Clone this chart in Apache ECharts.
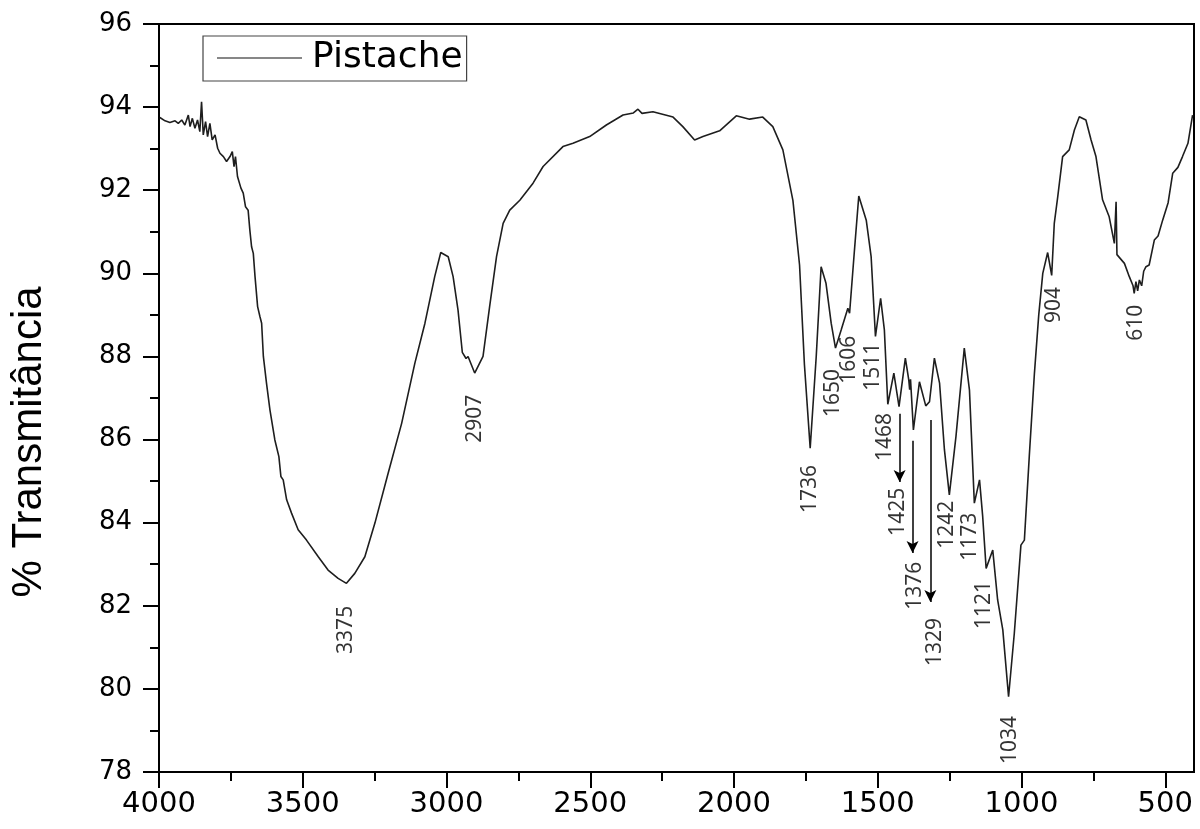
<!DOCTYPE html>
<html>
<head>
<meta charset="utf-8">
<script src="https://cdn.jsdelivr.net/npm/echarts@6/dist/echarts.min.js"></script>
<style>
html,body{margin:0;padding:0;background:#fff;}
#chart{width:1200px;height:829px;}
</style>
</head>
<body>
<div id="chart"></div>
<script>
// ---- data ----
const wavenumber = [
3997,3979,3962,3944,3933,3921,3910,3898,3892,3884,3875,3866,3858,3852,3846,3838,3831,3823,3815,3805,
3796,3788,3776,3765,3753,3745,3739,3734,3727,3715,3707,3699,3690,3684,3678,3672,3666,3657,3649,3643,
3637,3626,3614,3597,3583,3576,3568,3556,3539,3516,3487,3446,3412,3377,3348,3319,3284,3249,3203,3156,
3110,3075,3041,3020,2994,2977,2960,2945,2932,2925,2902,2873,2850,2826,2803,2780,2745,2699,2664,2595,
2560,2502,2444,2386,2350,2334,2320,2282,2212,2178,2137,2108,2050,1992,1946,1900,1865,1830,1795,1772,
1755,1735,1714,1697,1680,1662,1647,1627,1604,1598,1581,1566,1540,1523,1508,1490,1477,1465,1444,1426,
1404,1392,1389,1386,1376,1355,1333,1320,1303,1285,1268,1251,1228,1199,1181,1164,1146,1135,1123,1100,
1083,1065,1045,1025,1002,990,973,955,940,926,909,895,886,874,857,834,816,799,776,758,
741,718,695,677,671,668,642,625,612,608,602,596,590,582,575,567,556,538,525,509,
490,474,456,440,421,405
];
const transmittance = [
93.75,93.67,93.63,93.67,93.61,93.69,93.57,93.81,93.53,93.73,93.49,93.69,93.41,94.13,93.33,93.65,93.29,93.61,93.21,93.33,
93.01,92.89,92.81,92.69,92.81,92.93,92.57,92.81,92.33,92.05,91.93,91.60,91.52,91.04,90.64,90.48,89.92,89.20,88.96,88.80,
88.00,87.35,86.71,85.99,85.59,85.11,85.03,84.55,84.23,83.83,83.58,83.18,82.86,82.66,82.54,82.78,83.18,83.99,85.19,86.39,
87.84,88.80,89.92,90.50,90.40,89.92,89.12,88.10,87.95,88.00,87.60,88.00,89.20,90.40,91.20,91.52,91.76,92.17,92.57,93.05,
93.13,93.29,93.57,93.81,93.86,93.95,93.85,93.89,93.76,93.53,93.21,93.29,93.43,93.79,93.71,93.76,93.53,92.97,91.75,90.20,
87.80,85.79,88.00,90.16,89.76,88.80,88.20,88.64,89.16,89.04,90.56,91.86,91.28,90.40,88.48,89.40,88.64,86.85,87.60,86.79,
87.96,87.43,87.20,87.45,86.23,87.39,86.81,86.91,87.96,87.36,85.75,84.67,86.07,88.20,87.19,84.47,85.03,84.15,82.90,83.34,
82.14,81.42,79.81,81.34,83.46,83.58,85.59,87.60,89.00,90.00,90.50,89.95,91.20,91.84,92.81,92.97,93.45,93.77,93.69,93.21,
92.81,91.77,91.36,90.72,91.72,90.45,90.24,89.92,89.70,89.52,89.80,89.58,89.84,89.70,90.05,90.16,90.20,90.80,90.90,91.28,
91.70,92.41,92.55,92.81,93.13,93.81
];

const peakText = ['3375','2907','1736','1650','1606','1511','1468','1425','1376','1329','1242','1173','1121','1034','904','610'];
const peakTextWn = [3350,2902,1737,1657,1600,1518,1476,1431,1372,1302,1258,1178,1129,1039,886,601];
const peakTextT  = [81.42,86.50,84.81,87.12,87.92,87.75,86.06,84.26,82.48,81.13,83.95,83.66,82.02,78.77,89.24,88.81];

const arrowWn    = [1424,1379,1317];
const arrowFromT = [86.62,85.97,86.47];
const arrowToT   = [84.98,83.27,82.09];

const xMajorTicks = [500,1000,1500,2000,2500,3000,3500,4000];
const xMinorTicks = [750,1250,1750,2250,2750,3250,3750];
const seriesName = 'Pistache';

// ---- chart ----
const chart = echarts.init(document.getElementById('chart'), null, {renderer:'canvas'});
const spectrum = wavenumber.map((w,i)=>[w, transmittance[i]]);
const peaks = peakText.map((t,i)=>[peakTextWn[i], peakTextT[i], t]);
const arrows = arrowWn.map((w,i)=>[{coord:[w, arrowFromT[i]]},{coord:[w, arrowToT[i]]}]);

const option = {
  backgroundColor:'#fff',
  animation:false,
  grid:{left:159, right:6, top:24, bottom:57, show:true, borderColor:'#000', borderWidth:2, backgroundColor:'transparent'},
  legend:{
    show:true, left:203, top:36,
    data:[{name:seriesName, icon:'path://M0,0L100,0L100,1L0,1Z', itemStyle:{color:'#111'}}],
    itemWidth:85, itemHeight:1.6, itemGap:10,
    borderColor:'#444', borderWidth:1.2,
    padding:[4,4,5,14],
    textStyle:{fontFamily:'DejaVu Sans', fontSize:36, color:'#000', padding:[0,0,0,5]}
  },
  xAxis:[{
    type:'value', min:400, max:4000, inverse:true,
    axisLine:{show:true, onZero:false, lineStyle:{color:'#000', width:2}},
    axisTick:{show:true, inside:false, length:16, lineStyle:{color:'#000', width:2}, customValues:xMajorTicks},
    axisLabel:{margin:18, customValues:xMajorTicks, formatter:v=>String(v),
      fontFamily:'DejaVu Sans', fontSize:29, color:'#000'},
    splitLine:{show:false}
  },{
    type:'value', min:400, max:4000, inverse:true, position:'bottom',
    axisLine:{show:false},
    axisTick:{show:true, inside:false, length:9, lineStyle:{color:'#000', width:2}, customValues:xMinorTicks},
    axisLabel:{show:false},
    splitLine:{show:false}
  }],
  yAxis:{
    type:'value', min:78, max:96, interval:2,
    axisLine:{show:true, onZero:false, lineStyle:{color:'#000', width:2}},
    axisTick:{show:true, inside:false, length:16, lineStyle:{color:'#000', width:2}},
    minorTick:{show:true, splitNumber:2, length:9, lineStyle:{color:'#000', width:2}},
    axisLabel:{margin:27, fontFamily:'DejaVu Sans', fontSize:26, color:'#000'},
    splitLine:{show:false}, minorSplitLine:{show:false}
  },
  graphic:[{
    type:'text', x:29, y:442, rotation:Math.PI/2,
    style:{text:'% Transmitância', font:'42px "Liberation Sans"', fill:'#000', align:'center', verticalAlign:'middle'}
  }],
  series:[{
    name:seriesName, type:'line', xAxisIndex:0, data:spectrum,
    symbol:'none', smooth:false,
    lineStyle:{color:'#1e1e1e', width:1.6},
    itemStyle:{color:'#1e1e1e'}
  },{
    name:'peaks', type:'scatter', xAxisIndex:0, data:peaks,
    symbolSize:0, silent:true,
    label:{show:true, position:'inside', rotate:90, formatter:p=>p.value[2],
      fontFamily:'Noto Sans', fontSize:21, color:'#000', align:'center', verticalAlign:'middle'},
    markLine:{
      silent:true, symbol:['none','arrow'], symbolSize:[9,12],
      lineStyle:{color:'#000', width:1.5, type:'solid'},
      label:{show:false},
      data:arrows
    }
  }]
};
chart.setOption(option);
</script>
</body>
</html>
